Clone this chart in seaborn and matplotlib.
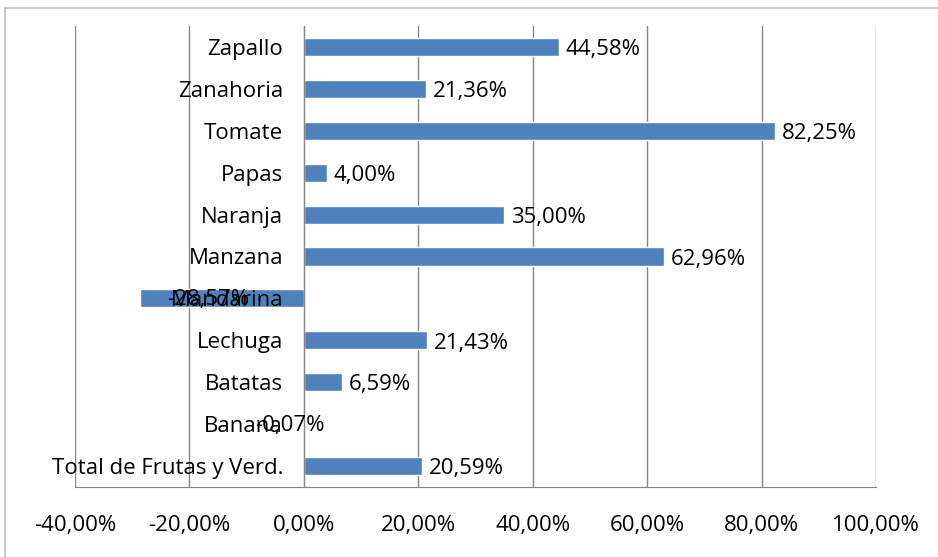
import numpy as np
import pandas as pd
import seaborn as sns
import matplotlib.pyplot as plt
from matplotlib.ticker import FuncFormatter, FixedLocator
from matplotlib.patches import Rectangle

# datos
productos = ["Zapallo", "Zanahoria", "Tomate", "Papas", "Naranja", "Manzana",
             "Mandarina", "Lechuga", "Batatas", "Banana", "Total de Frutas y Verd."]
variacion = [44.58, 21.36, 82.25, 4.00, 35.00, 62.96, -28.57, 21.43, 6.59, -0.07, 20.59]
ticks_x = [-40, -20, 0, 20, 40, 60, 80, 100]

df = pd.DataFrame({"producto": productos, "variacion": variacion})

sns.set_style("white")
plt.rcParams['font.family'] = ['Open Sans', 'DejaVu Sans']
plt.rcParams['text.color'] = 'black'
plt.rcParams['xtick.labelcolor'] = 'black'
plt.rcParams['ytick.labelcolor'] = 'black'

fig = plt.figure(figsize=(9.38, 5.57), dpi=100)
ax = fig.add_axes([0.08, 0.126, 0.854, 0.827])

# borde del grafico
fig.patches.append(Rectangle((0.005, -0.05), 1.2, 1.036, transform=fig.transFigure,
                             fill=False, edgecolor="#bfbfbf", linewidth=1.2))

sns.barplot(data=df, y="producto", x="variacion", orient="h", color="#4F81BD",
            width=0.43, saturation=1, ax=ax)

ax.set_xlim(-40, 100)
ax.set_ylim(len(productos) - 0.5, -0.5)
ax.xaxis.set_major_locator(FixedLocator(ticks_x))
ax.xaxis.set_major_formatter(FuncFormatter(lambda v, p: f"{v:.2f}%".replace(".", ",")))
ax.grid(axis="x", color="#868686", linewidth=1)
ax.set_axisbelow(True)
ax.yaxis.set_zorder(5)  # nombres por encima de las barras
ax.set_xlabel("")
ax.set_ylabel("")

for s in ["top", "right"]:
    ax.spines[s].set_visible(False)
ax.spines["left"].set_position(("data", 0))
ax.spines["left"].set_color("#868686")
ax.spines["bottom"].set_color("#868686")

ax.tick_params(axis="x", direction="out", length=7, color="#868686", pad=13,
               labelsize=16, labelcolor="black")
ax.tick_params(axis="y", which="major", length=0, pad=15, labelsize=16, labelcolor="black")
ax.set_yticks(np.arange(-0.5, len(productos), 1), minor=True)
ax.tick_params(axis="y", which="minor", direction="out", length=7, color="#868686")

# etiquetas de valores
for i, v in enumerate(variacion):
    txt = f"{v:.2f}%".replace(".", ",")
    if v >= 0:
        ax.annotate(txt, (v, i), xytext=(5, -2), textcoords="offset points",
                    ha="left", va="center", fontsize=16, zorder=6, color="black")
    else:
        ax.annotate(txt, (v / 2, i), xytext=(-10, -1), textcoords="offset points",
                    ha="center", va="center", fontsize=16, zorder=6, color="black")

fig.savefig("out.png", dpi=100)
